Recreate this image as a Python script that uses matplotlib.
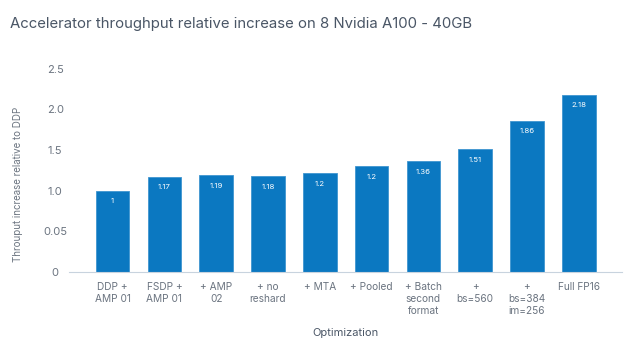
import matplotlib.pyplot as plt

# Data
categories = ['DDP +\nAMP 01', 'FSDP +\nAMP 01', '+ AMP\n02', '+ no\nreshard', '+ MTA',
              '+ Pooled', '+ Batch\nsecond\nformat', '+\nbs=560', '+\nbs=384\nim=256', 'Full FP16']
values = [1.0, 1.17, 1.19, 1.18, 1.21, 1.30, 1.36, 1.51, 1.86, 2.18]
value_labels = ['1', '1.17', '1.19', '1.18', '1.2', '1.2', '1.36', '1.51', '1.86', '2.18']
y_ticks = [0, 0.5, 1.0, 1.5, 2.0, 2.5]
y_tick_labels = ['0', '0.05', '1.0', '1.5', '2.0', '2.5']

plt.rcParams['font.family'] = ['Inter', 'DejaVu Sans']

bar_color = '#0b78c1'
text_color = '#4a5666'
tick_color = '#6b7480'

fig = plt.figure(figsize=(6.28, 3.46), dpi=100)
ax = fig.add_axes([0.110, 0.214, 0.880, 0.588])

x = range(len(categories))
bars = ax.bar(x, values, width=0.65, color=bar_color, edgecolor='#3f95d0', linewidth=0.6)

for b, lab in zip(bars, value_labels):
    ax.text(b.get_x() + b.get_width() / 2, b.get_height() - 0.13, lab,
            ha='center', va='center', color='white', fontsize=5.6)

ax.set_xlim(-0.84, 9.83)
ax.set_ylim(0, 2.5)
ax.set_yticks(y_ticks)
ax.set_yticklabels(y_tick_labels, fontsize=8, color=tick_color, ha='center')
ax.set_xticks(list(x))
ax.set_xticklabels(categories, fontsize=7.3, color=tick_color, linespacing=1.3, va='top')
ax.tick_params(axis='both', length=0)
ax.tick_params(axis='y', pad=10)
ax.tick_params(axis='x', pad=7)

for s in ['top', 'right', 'left']:
    ax.spines[s].set_visible(False)
ax.spines['bottom'].set_color('#c8d3de')
ax.spines['bottom'].set_linewidth(0.8)

ax.set_xlabel('Optimization', fontsize=8, color=text_color, labelpad=8)
fig.text(0.028, 0.468, 'Throuput increase relative to DDP', rotation=90,
         ha='center', va='center', fontsize=7, color=tick_color)

fig.text(0.016, 0.93, 'Accelerator throughput relative increase on 8 Nvidia A100 - 40GB',
         ha='left', va='center', fontsize=10.75, color=text_color)

fig.savefig('out.png', dpi=100)
